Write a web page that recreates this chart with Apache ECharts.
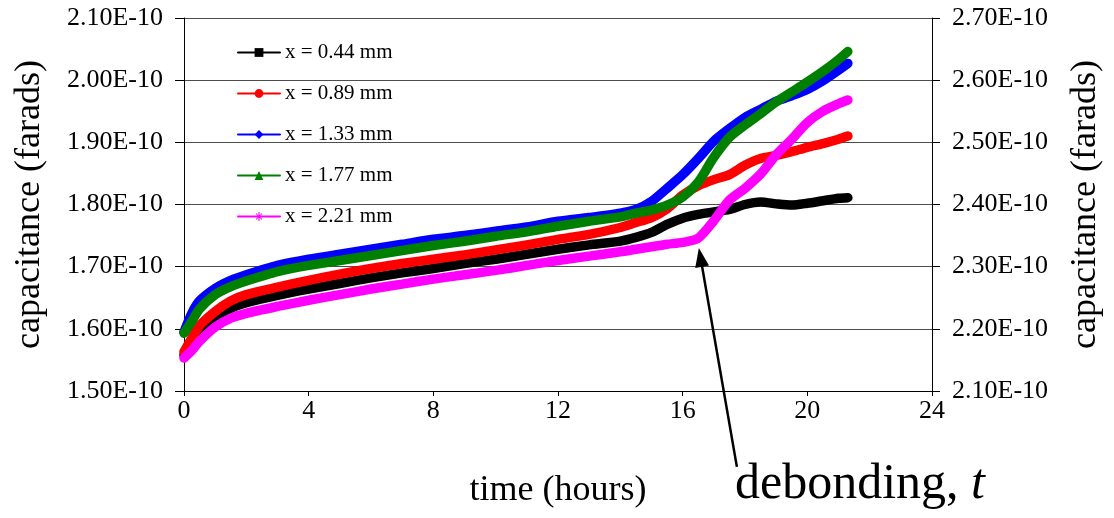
<!DOCTYPE html>
<html>
<head>
<meta charset="utf-8">
<script src="https://cdn.jsdelivr.net/npm/echarts@6/dist/echarts.min.js"></script>
<style>
  html, body { margin: 0; padding: 0; background: #fff; }
  #chart { width: 1114px; height: 518px; }
</style>
</head>
<body>
<div id="chart"></div>
<script>
// Elapsed time, hours
const hours = [0, 0.25, 0.5, 1, 1.5, 2, 3, 4, 5, 6, 7, 8, 9, 10, 11, 12, 13, 14, 14.5, 15, 15.5, 16, 16.5, 17, 17.5, 18, 18.5, 19, 19.5, 20, 20.5, 21, 21.3];

// Capacitance at each sensor position, in units of 1E-10 farads
const cap044 = [1.558, 1.578, 1.598, 1.620, 1.633, 1.642, 1.654, 1.664, 1.673, 1.682, 1.690, 1.697, 1.705, 1.712, 1.720, 1.728, 1.735, 1.741, 1.747, 1.755, 1.768, 1.778, 1.784, 1.788, 1.792, 1.800, 1.804, 1.801, 1.799, 1.802, 1.806, 1.810, 1.811];
const cap089 = [1.563, 1.585, 1.605, 1.628, 1.645, 1.655, 1.667, 1.678, 1.688, 1.697, 1.705, 1.712, 1.719, 1.727, 1.735, 1.744, 1.752, 1.763, 1.771, 1.779, 1.793, 1.815, 1.830, 1.840, 1.848, 1.863, 1.874, 1.879, 1.885, 1.892, 1.898, 1.905, 1.910];
const cap133 = [1.595, 1.625, 1.645, 1.665, 1.678, 1.687, 1.702, 1.712, 1.720, 1.728, 1.736, 1.744, 1.750, 1.757, 1.764, 1.773, 1.779, 1.786, 1.792, 1.805, 1.826, 1.848, 1.874, 1.902, 1.922, 1.940, 1.953, 1.966, 1.975, 1.985, 1.999, 2.016, 2.027];
const cap177 = [1.593, 1.612, 1.632, 1.655, 1.668, 1.677, 1.692, 1.702, 1.710, 1.718, 1.726, 1.734, 1.741, 1.749, 1.756, 1.765, 1.773, 1.780, 1.786, 1.791, 1.799, 1.812, 1.836, 1.876, 1.908, 1.928, 1.946, 1.965, 1.981, 1.997, 2.014, 2.033, 2.046];
const cap221 = [1.553, 1.565, 1.580, 1.603, 1.617, 1.625, 1.636, 1.646, 1.655, 1.664, 1.672, 1.680, 1.687, 1.694, 1.702, 1.710, 1.717, 1.724, 1.728, 1.732, 1.736, 1.739, 1.746, 1.774, 1.807, 1.826, 1.849, 1.880, 1.905, 1.932, 1.950, 1.962, 1.968];

const seriesNames = ['x = 0.44 mm', 'x = 0.89 mm', 'x = 1.33 mm', 'x = 1.77 mm', 'x = 2.21 mm'];
const seriesValues = [cap044, cap089, cap133, cap177, cap221];
const seriesColors = ['#000000', '#ff0000', '#0000ff', '#008000', '#ff00ff'];
const asterisk = 'path://M0,4.4H10V5.6H0Z M4.4,0H5.6V10H4.4Z M1.2,2L2,1.2L8.8,8L8,8.8Z M8,1.2L8.8,2L2,8.8L1.2,8Z';
const seriesSymbols = ['rect', 'circle', 'diamond', 'triangle', asterisk];

// Axis ranges (1E-10 farads) and tick step
const leftRange = [1.5, 2.1];
const rightRange = [2.1, 2.7];
const capStep = 0.1;
const timeRange = [0, 24];
const timeStep = 4;

// Annotation arrow: tip sits on the 2.21 mm curve where debonding begins
const arrowTip = [16.52, 1.730];
const arrowTail = [17.74, 1.378];

const FONT = '"Liberation Serif", "Times New Roman", serif';
const fmtCap = v => v.toFixed(2) + 'E-10';

const chart = echarts.init(document.getElementById('chart'), null, { renderer: 'canvas' });

const option = {
  animation: false,
  backgroundColor: '#ffffff',
  grid: { left: 184, right: 182, top: 18, bottom: 127, containLabel: false },
  legend: {
    orient: 'vertical',
    left: 232,
    top: 37,
    itemWidth: 42,
    itemHeight: 11,
    itemGap: 20,
    selectedMode: false,
    lineStyle: { width: 2 },
    textStyle: { fontFamily: FONT, fontSize: 21, color: '#000', lineHeight: 21 },
    data: seriesNames
  },
  xAxis: {
    type: 'value',
    min: timeRange[0],
    max: timeRange[1],
    interval: timeStep,
    name: 'time (hours)',
    nameLocation: 'middle',
    nameGap: 82,
    nameTextStyle: { fontFamily: FONT, fontSize: 36, color: '#000' },
    axisLine: { show: true, onZero: false, lineStyle: { color: '#000', width: 1 } },
    axisTick: { show: true, length: 5, lineStyle: { color: '#000' } },
    axisLabel: { fontFamily: FONT, fontSize: 26, color: '#000', margin: 7 },
    splitLine: { show: false }
  },
  yAxis: [
    {
      type: 'value',
      position: 'left',
      min: leftRange[0],
      max: leftRange[1],
      interval: capStep,
      name: 'capacitance (farads)',
      nameLocation: 'middle',
      nameGap: 136,
      nameTextStyle: { fontFamily: FONT, fontSize: 36, color: '#000' },
      axisLine: { show: true, lineStyle: { color: '#000', width: 1 } },
      axisTick: { show: true, length: 9, lineStyle: { color: '#000' } },
      axisLabel: { fontFamily: FONT, fontSize: 26, color: '#000', margin: 21, formatter: fmtCap },
      splitLine: { show: true, lineStyle: { color: '#4d4d4d', width: 1 } }
    },
    {
      type: 'value',
      position: 'right',
      min: rightRange[0],
      max: rightRange[1],
      interval: capStep,
      name: 'capacitance (farads)',
      nameLocation: 'middle',
      nameGap: 136,
      nameTextStyle: { fontFamily: FONT, fontSize: 36, color: '#000' },
      axisLine: { show: true, lineStyle: { color: '#000', width: 1 } },
      axisTick: { show: true, length: 8, lineStyle: { color: '#000' } },
      axisLabel: { fontFamily: FONT, fontSize: 26, color: '#000', margin: 20, formatter: fmtCap },
      splitLine: { show: false }
    }
  ],
  series: seriesNames.map((name, i) => ({
    name,
    type: 'line',
    yAxisIndex: 0,
    data: hours.map((t, k) => [t, seriesValues[i][k]]),
    symbol: seriesSymbols[i],
    showSymbol: false,
    smooth: 0.25,
    color: seriesColors[i],
    itemStyle: { color: seriesColors[i] },
    lineStyle: { color: seriesColors[i], width: 9.5, cap: 'round', join: 'round' },
    emphasis: { disabled: true },
    z: 2 + i
  }))
};

chart.setOption(option);

// Arrow and "debonding, t" caption placed from data coordinates
const tip = chart.convertToPixel({ xAxisIndex: 0, yAxisIndex: 0 }, arrowTip);
const tail = chart.convertToPixel({ xAxisIndex: 0, yAxisIndex: 0 }, arrowTail);
const dx = tip[0] - tail[0], dy = tip[1] - tail[1];
const len = Math.sqrt(dx * dx + dy * dy);
const ux = dx / len, uy = dy / len;
const headLen = 19, headHalf = 7;
const baseX = tip[0] - ux * headLen, baseY = tip[1] - uy * headLen;

chart.setOption({
  graphic: [
    {
      type: 'line',
      shape: { x1: tail[0], y1: tail[1], x2: baseX + ux * 2, y2: baseY + uy * 2 },
      style: { stroke: '#000', lineWidth: 2.5 },
      z: 100
    },
    {
      type: 'polygon',
      shape: {
        points: [
          [tip[0], tip[1]],
          [baseX - uy * headHalf, baseY + ux * headHalf],
          [baseX + uy * headHalf, baseY - ux * headHalf]
        ]
      },
      style: { fill: '#000' },
      z: 100
    },
    {
      type: 'text',
      left: 735,
      top: 460,
      style: {
        text: '{a|debonding, }{b|t}',
        rich: {
          a: { fontFamily: FONT, fontSize: 50, fill: '#000' },
          b: { fontFamily: FONT, fontSize: 50, fontStyle: 'italic', fill: '#000' }
        }
      },
      z: 100
    }
  ]
});
</script>
</body>
</html>
